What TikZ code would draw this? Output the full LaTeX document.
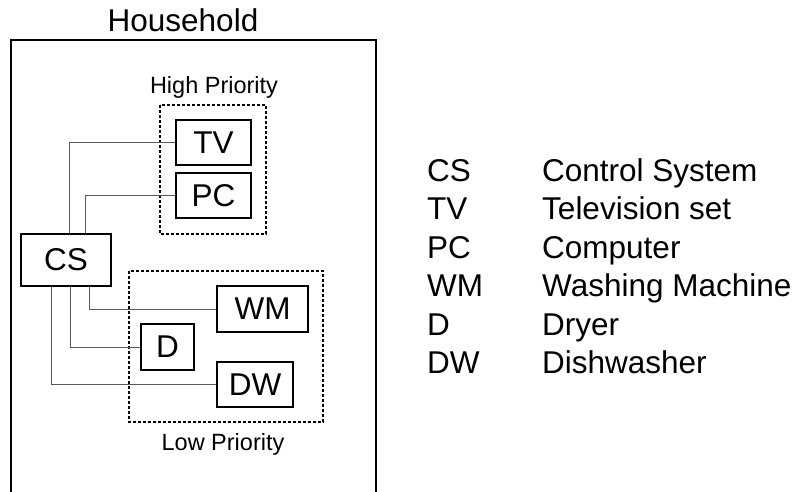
\documentclass[tikz,border=0pt]{standalone}
\usepackage{fontspec}
\setmainfont{Liberation Sans}
\begin{document}
\begin{tikzpicture}[x=1pt,y=-1pt,
  dev/.style={draw=black,line width=1.5pt,inner sep=0pt,font=\fontsize{31.5}{36}\selectfont},
  conn/.style={draw=black!65,line width=1pt},
  grp/.style={draw=black,line width=1.4pt,dash pattern=on 3pt off 2pt},
  big/.style={font=\fontsize{31.5}{36}\selectfont,inner sep=0pt},
  small/.style={font=\fontsize{23.5}{28}\selectfont,inner sep=0pt}]
\useasboundingbox (0,0) rectangle (797,492);
% household
\draw[line width=1.5pt] (11,492) -- (11,40) -- (376,40) -- (376,492);
\node[big,anchor=base] (hh) at (183,32) {Household};
% groups
\draw[grp] (160,105) rectangle (266,234);
\node[small,anchor=base] (hp) at (214,94) {High Priority};
\draw[grp] (129,271) rectangle (323,422);
\node[small,anchor=base] (lp) at (223,450) {Low Priority};
% devices
\node[dev,minimum width=75pt,minimum height=45pt] (TV) at (213.5,142.5) {TV};
\node[dev,minimum width=75pt,minimum height=45pt] (PC) at (213.5,195.5) {PC};
\node[dev,minimum width=90pt,minimum height=52pt] (CS) at (66,260) {CS};
\node[dev,minimum width=91pt,minimum height=46pt] (WM) at (262.5,309) {WM};
\node[dev,minimum width=53pt,minimum height=46pt] (D) at (167.5,347) {D};
\node[dev,minimum width=76pt,minimum height=45pt] (DW) at (255,384.5) {DW};
% connectors
\draw[conn] (CS.north -| 69,0) |- (TV.west);
\draw[conn] (CS.north -| 85,0) |- (PC.west);
\draw[conn] (CS.south -| 89,0) |- (WM.west);
\draw[conn] (CS.south -| 70,0) |- (D.west);
\draw[conn] (CS.south -| 51,0) |- (DW.west);
% legend
\foreach \a/\b/\n [count=\i from 0] in {CS/Control System/a, TV/Television set/b, PC/Computer/c, WM/Washing Machine/d, D/Dryer/e, DW/Dishwasher/f}{
  \node[big,anchor=base west] (k\n) at (427,181+38.5*\i) {\a};
  \node[big,anchor=base west] (v\n) at (542,181+38.5*\i) {\b};
}
\end{tikzpicture}
\end{document}
